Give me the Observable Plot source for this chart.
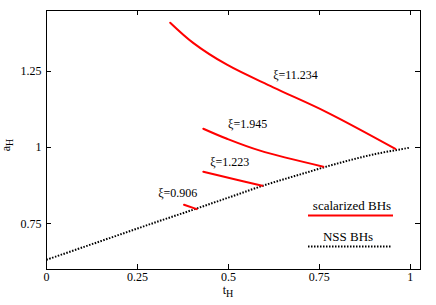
<!DOCTYPE html>
<html>
<head>
<meta charset="utf-8">
<script src="https://cdn.jsdelivr.net/npm/d3@7"></script>
<script src="https://cdn.jsdelivr.net/npm/@observablehq/plot@0.6"></script>
<style>
  html, body { margin: 0; padding: 0; background: white; }
  #chart { width: 436px; height: 305px; }
</style>
</head>
<body>
<div id="chart"></div>
<script>
// ---- data ----
const xTicks = [0, 0.25, 0.5, 0.75, 1];
const xTickLabels = ["0", "0.25", "0.5", "0.75", "1"];
const yTicks = [0.75, 1, 1.25];
const yTickLabels = ["0.75", "1", "1.25"];

// NSS (non-scalarized) black holes
const nssT = [0, 0.1, 0.2, 0.3, 0.4, 0.5, 0.6, 0.7, 0.8, 0.9, 1.0];
const nssA = [0.632, 0.673, 0.714, 0.755, 0.795, 0.836, 0.877, 0.913, 0.948, 0.978, 1.0];

// scalarized BHs, one branch per xi
const xi11T = [0.340, 0.404, 0.496, 0.623, 0.771, 0.959];
const xi11A = [1.410, 1.343, 1.272, 1.198, 1.116, 0.996];
const xi1945T = [0.431, 0.496, 0.587, 0.761];
const xi1945A = [1.062, 1.029, 0.990, 0.9375];
const xi1223T = [0.431, 0.514, 0.593];
const xi1223A = [0.921, 0.897, 0.875];
const xi0906T = [0.378, 0.413];
const xi0906A = [0.8125, 0.798];

// branch labels
const labelText = ["ξ=11.234", "ξ=1.945", "ξ=1.223", "ξ=0.906"];
const labelT = [0.623, 0.499, 0.450, 0.307];
const labelA = [1.237, 1.076, 0.951, 0.849];

const legendNames = ["scalarized BHs", "NSS BHs"];

// ---- build tables ----
const nss = nssT.map((t, i) => ({t, a: nssA[i]}));
const branches = [
  [xi11T, xi11A, "11.234"],
  [xi1945T, xi1945A, "1.945"],
  [xi1223T, xi1223A, "1.223"],
  [xi0906T, xi0906A, "0.906"]
].flatMap(([T, A, k]) => T.map((t, i) => ({t, a: A[i], k})));
const labels = labelText.map((s, i) => ({s, t: labelT[i], a: labelA[i]}));

const RED = "#ff0000";
const FF = "Liberation Serif, Times New Roman, serif";

const chart = Plot.plot({
  width: 436,
  height: 305,
  marginLeft: 46,
  marginRight: 16,
  marginTop: 10,
  marginBottom: 36,
  x: {domain: [0, 1.028]},
  y: {domain: [0.6, 1.45]},
  style: {fontFamily: FF, fontSize: "12px", background: "white", color: "black"},
  marks: [
    Plot.axisX(xTicks, {anchor: "bottom", tickSize: 0, tickPadding: 3, tickFormat: (d, i) => xTickLabels[i], label: null, fontSize: 12}),
    Plot.axisY(yTicks, {anchor: "left", tickSize: 0, tickPadding: 5, tickFormat: (d, i) => yTickLabels[i], label: null, fontSize: 12}),
    Plot.line(nss, {x: "t", y: "a", stroke: "black", strokeWidth: 2, strokeDasharray: "1.5,1.5", strokeLinecap: "butt", curve: "catmull-rom"}),
    Plot.line(branches, {x: "t", y: "a", z: "k", stroke: RED, strokeWidth: 2, curve: "catmull-rom"}),
    Plot.text(labels, {x: "t", y: "a", text: "s", textAnchor: "start", fontSize: 12, fill: "black"}),
    Plot.frame({stroke: "black", strokeWidth: 1})
  ]
});
document.getElementById("chart").appendChild(chart);

const svg = d3.select(chart);
const sx = chart.scale("x"), sy = chart.scale("y");
const [x0, x1] = sx.range, [y0, y1] = sy.range; // y0 bottom, y1 top

// inward ticks on all four sides, placed through the chart's scales
const tk = svg.append("g").attr("stroke", "black").attr("stroke-width", 1);
xTicks.forEach(v => {
  const px = Math.round(sx.apply(v)) + 0.5;
  if (v > 0) {
    tk.append("line").attr("x1", px).attr("x2", px).attr("y1", y0).attr("y2", y0 - 5);
    tk.append("line").attr("x1", px).attr("x2", px).attr("y1", y1).attr("y2", y1 + 5);
  }
});
yTicks.forEach(v => {
  const py = Math.round(sy.apply(v)) + 0.5;
  tk.append("line").attr("x1", x0).attr("x2", x0 + 5).attr("y1", py).attr("y2", py);
  tk.append("line").attr("x1", x1).attr("x2", x1 - 5).attr("y1", py).attr("y2", py);
});

// axis titles with subscripts
const xt = svg.append("text")
  .attr("x", 228).attr("y", 294)
  .attr("font-family", FF).attr("font-size", 12).attr("fill", "black");
xt.append("tspan").text("t");
xt.append("tspan").attr("dy", 3).attr("font-size", 10).text("H");

const yt = svg.append("text")
  .attr("transform", "translate(10,145) rotate(-90)")
  .attr("font-family", FF).attr("font-size", 12).attr("fill", "black");
yt.append("tspan").text("a");
yt.append("tspan").attr("dy", 3).attr("font-size", 10).text("H");

// legend
const lg = svg.append("g").attr("font-family", FF).attr("font-size", 13).attr("fill", "black");
lg.append("text").attr("x", 352).attr("y", 210).attr("text-anchor", "middle").text(legendNames[0]);
lg.append("line").attr("x1", 308).attr("x2", 393).attr("y1", 215.5).attr("y2", 215.5)
  .attr("stroke", RED).attr("stroke-width", 2);
lg.append("text").attr("x", 348).attr("y", 241).attr("text-anchor", "middle").text(legendNames[1]);
lg.append("line").attr("x1", 308).attr("x2", 392).attr("y1", 246.5).attr("y2", 246.5)
  .attr("stroke", "black").attr("stroke-width", 2).attr("stroke-dasharray", "1.5,1.5");
</script>
</body>
</html>
